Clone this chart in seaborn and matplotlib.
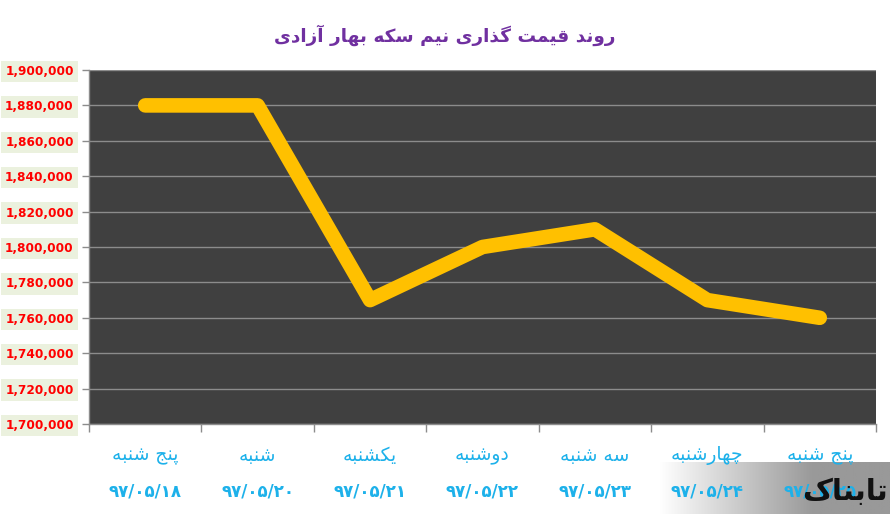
import seaborn as sns
import matplotlib.pyplot as plt
import numpy as np
from matplotlib.ticker import FuncFormatter, FixedLocator

title = "روند قیمت گذاری نیم سکه بهار آزادی"
days = ["پنج شنبه", "شنبه", "یکشنبه", "دوشنبه", "سه شنبه", "چهارشنبه", "پنج شنبه"]
dates = ["۹۷/۰۵/۱۸", "۹۷/۰۵/۲۰", "۹۷/۰۵/۲۱", "۹۷/۰۵/۲۲", "۹۷/۰۵/۲۳", "۹۷/۰۵/۲۴", "۹۷/۰۵/۲۵"]
prices = [1880000, 1880000, 1770000, 1800000, 1810000, 1770000, 1760000]
y_ticks = list(range(1700000, 1900001, 20000))

# small arabic shaper: (isolated, final, initial, medial)
FORMS = {
    'ا': (0xFE8D, 0xFE8E, None, None), 'آ': (0xFE81, 0xFE82, None, None),
    'ب': (0xFE8F, 0xFE90, 0xFE91, 0xFE92), 'ت': (0xFE95, 0xFE96, 0xFE97, 0xFE98),
    'ج': (0xFE9D, 0xFE9E, 0xFE9F, 0xFEA0), 'د': (0xFEA9, 0xFEAA, None, None),
    'ذ': (0xFEAB, 0xFEAC, None, None), 'ر': (0xFEAD, 0xFEAE, None, None),
    'ز': (0xFEAF, 0xFEB0, None, None), 'س': (0xFEB1, 0xFEB2, 0xFEB3, 0xFEB4),
    'ش': (0xFEB5, 0xFEB6, 0xFEB7, 0xFEB8), 'ق': (0xFED5, 0xFED6, 0xFED7, 0xFED8),
    'م': (0xFEE1, 0xFEE2, 0xFEE3, 0xFEE4), 'ن': (0xFEE5, 0xFEE6, 0xFEE7, 0xFEE8),
    'ه': (0xFEE9, 0xFEEA, 0xFEEB, 0xFEEC), 'و': (0xFEED, 0xFEEE, None, None),
    'پ': (0xFB56, 0xFB57, 0xFB58, 0xFB59), 'چ': (0xFB7A, 0xFB7B, 0xFB7C, 0xFB7D),
    'ک': (0xFB8E, 0xFB8F, 0xFB90, 0xFB91), 'گ': (0xFB92, 0xFB93, 0xFB94, 0xFB95),
    'ی': (0xFBFC, 0xFBFD, 0xFBFE, 0xFBFF),
}


def shape(s):
    out = []
    for i, ch in enumerate(s):
        if ch not in FORMS:
            out.append(ch)
            continue
        prev = s[i - 1] if i > 0 else ''
        nxt = s[i + 1] if i + 1 < len(s) else ''
        join_prev = prev in FORMS and FORMS[prev][2] is not None
        join_next = FORMS[ch][2] is not None and nxt in FORMS
        iso, fin, ini, med = FORMS[ch]
        if join_prev and join_next:
            c = med
        elif join_prev:
            c = fin
        elif join_next:
            c = ini
        else:
            c = iso
        out.append(chr(c))
    return ''.join(out)[::-1]


sns.set_style('white')
plt.rcParams['font.family'] = ['DejaVu Sans']

fig = plt.figure(figsize=(8.9, 5.14), dpi=100)
ax = fig.add_axes([89 / 890, 1 - 424 / 514, 787 / 890, 354 / 514])
ax.set_facecolor('#404040')

x = np.arange(len(prices))
sns.lineplot(x=x, y=prices, ax=ax, color='#FFC000', linewidth=10.5,
             solid_capstyle='round', solid_joinstyle='round')

ax.set_xlim(-0.5, len(prices) - 0.5)
ax.set_ylim(y_ticks[0], y_ticks[-1])
ax.yaxis.set_major_locator(FixedLocator(y_ticks))
ax.yaxis.set_major_formatter(FuncFormatter(lambda v, p: f"{int(v):,}"))
ax.grid(axis='y', color='#8c8c8c', linewidth=1)
ax.set_axisbelow(True)

ax.set_xticks(np.arange(-0.5, len(prices), 1.0))
ax.set_xticklabels([])
ax.tick_params(axis='x', direction='out', length=6, width=1, color='#8c8c8c', bottom=True)
ax.tick_params(axis='y', direction='out', length=5, width=1, color='#8c8c8c', left=True,
               labelsize=8.7, labelcolor='red', pad=6)
for lab in ax.get_yticklabels():
    lab.set_fontweight('bold')
    lab.set_bbox(dict(facecolor='#EBF1DE', edgecolor='none', pad=3))

for side in ['top', 'right']:
    ax.spines[side].set_visible(False)
for side in ['left', 'bottom']:
    ax.spines[side].set_color('#8c8c8c')
    ax.spines[side].set_linewidth(1)

tr = ax.get_xaxis_transform()
for i, (d, dt) in enumerate(zip(days, dates)):
    ax.text(i, -0.09, shape(d), transform=tr, ha='center', va='center',
            color='#1DB1EA', fontsize=13.5)
    ax.text(i, -0.19, dt, transform=tr, ha='center', va='center',
            color='#1DB1EA', fontsize=12, fontweight='bold')

fig.text(0.5, 1 - 35 / 514, shape(title), ha='center', va='center',
         color='#7030A0', fontsize=13.3, fontweight='bold')

# watermark box, fading in from the left, drawn beneath the axis labels
wax = fig.add_axes([660 / 890, 0, 230 / 890, 52 / 514])
wax.set_zorder(-1)
ramp = np.clip(np.linspace(0, 1.5, 256), 0, 1)
grad = np.zeros((1, 256, 4))
grad[0, :, :3] = (1 - 0.4 * ramp)[:, None]
grad[0, :, 3] = 1
wax.imshow(grad, aspect='auto', extent=[0, 1, 0, 1])
wax.set_xlim(0, 1)
wax.set_ylim(0, 1)
wax.axis('off')
fig.text(0.998, 22 / 514, shape("تابناک"), ha='right', va='center', color='#111111',
         fontsize=21, fontweight='bold', zorder=10)

fig.savefig('out.png', dpi=100)
